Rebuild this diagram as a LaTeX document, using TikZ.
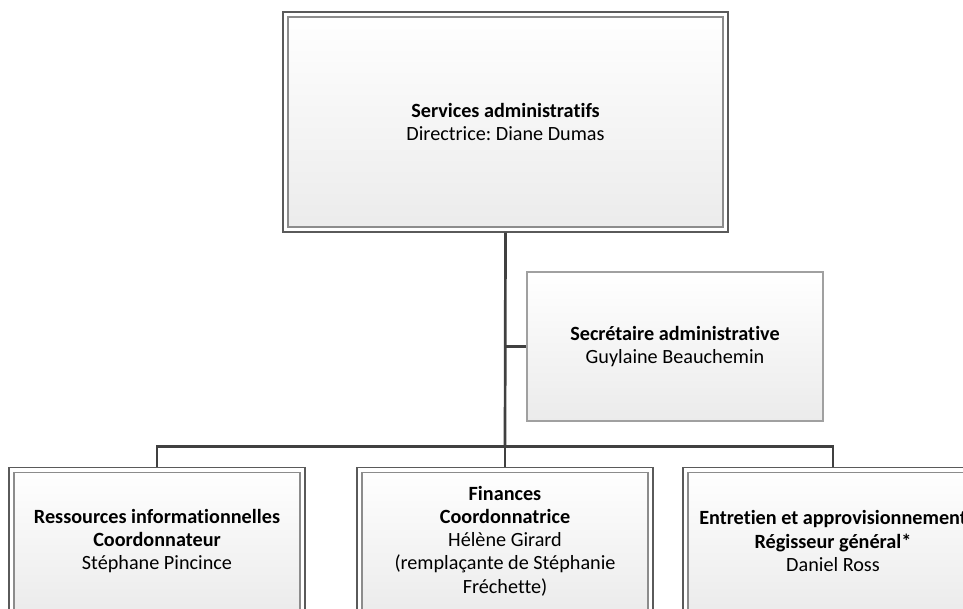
\documentclass[tikz,border=0pt]{standalone}
\usepackage{fontspec}
\setmainfont[Ligatures=NoCommon]{Carlito}
\frenchspacing
\definecolor{boxouter}{HTML}{5A5A5A}
\definecolor{boxinner}{HTML}{8C8C8C}
\definecolor{boxsingle}{HTML}{A0A0A0}
\definecolor{boxbot}{HTML}{EBEBEB}
\definecolor{conn}{HTML}{404040}
\tikzset{
  boxtext/.style={align=center, font=\fontsize{20.2}{23.3}\selectfont, text=black, inner sep=0pt},
  singlebox/.style={boxtext, rectangle, draw=boxsingle, line width=1.6pt, top color=white, bottom color=boxbot},
  dblbox/.style={boxtext, rectangle, draw=boxouter, line width=1.4pt, fill=white,
    path picture={\draw[draw=boxinner, line width=1.6pt, top color=white, bottom color=boxbot]
      ([shift={(5,5)}]path picture bounding box.north west) rectangle
      ([shift={(-5,-5)}]path picture bounding box.south east);}},
  connector/.style={draw=conn, line width=2.7pt}
}
\begin{document}
\begin{tikzpicture}[x=1pt,y=-1pt]
\useasboundingbox (0,0) rectangle (963,609);
\begin{scope}
\clip (0,0) rectangle (963,609);
\node[dblbox, minimum width=445pt, minimum height=220pt] (top) at (505.5,122)
  {\textbf{Services administratifs}\\Directrice: Diane Dumas};
\node[singlebox, minimum width=296pt, minimum height=149pt] (sec) at (675,346.5)
  {\textbf{Secrétaire administrative}\\Guylaine Beauchemin};
\node[dblbox, minimum width=296pt, minimum height=147pt] (ri) at (157,541)
  {\textbf{Ressources informationnelles}\\\textbf{Coordonnateur}\\Stéphane Pincince};
\node[dblbox, minimum width=296pt, minimum height=147pt] (fin) at (505,541)
  {\textbf{Finances}\\\textbf{Coordonnatrice}\\Hélène Girard\\(remplaçante de Stéphanie\\Fréchette)};
\node[dblbox, minimum width=300pt, minimum height=147pt] (ent) at (833,541)
  {\textbf{Entretien et approvisionnement}\\\textbf{Régisseur général*}\\Daniel Ross};
\coordinate (bus) at (505,446.5);
\draw[connector] (top.south) -- (bus);
\draw[connector] (sec.west) -- (sec.west -| top.south);
\draw[connector] (ri.north) |- (bus) -| (ent.north);
\draw[connector] (bus) -- (fin.north);
\end{scope}
\end{tikzpicture}
\end{document}
